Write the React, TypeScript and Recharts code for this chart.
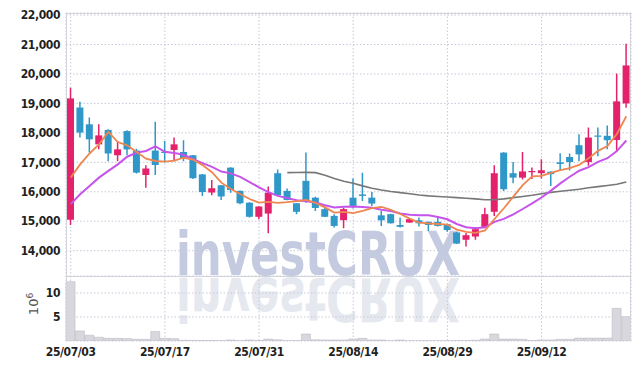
import { ComposedChart, Bar, Line, XAxis, YAxis, CartesianGrid } from 'recharts'

// trading days, 25/07/03 .. 25/09/25
const dates = [
  '25/07/03', '25/07/04', '25/07/07', '25/07/08', '25/07/09', '25/07/10', '25/07/11', '25/07/14', '25/07/15', '25/07/16',
  '25/07/17', '25/07/18', '25/07/21', '25/07/22', '25/07/23', '25/07/24', '25/07/25', '25/07/28', '25/07/29', '25/07/30',
  '25/07/31', '25/08/01', '25/08/04', '25/08/05', '25/08/06', '25/08/07', '25/08/08', '25/08/11', '25/08/12', '25/08/13',
  '25/08/14', '25/08/18', '25/08/19', '25/08/20', '25/08/21', '25/08/22', '25/08/25', '25/08/26', '25/08/27', '25/08/28',
  '25/08/29', '25/09/01', '25/09/02', '25/09/03', '25/09/04', '25/09/05', '25/09/08', '25/09/09', '25/09/10', '25/09/11',
  '25/09/12', '25/09/15', '25/09/16', '25/09/17', '25/09/18', '25/09/19', '25/09/22', '25/09/23', '25/09/24', '25/09/25'
]

const opens = [
  15050, 18860, 18290, 17610, 18100, 17240, 18060, 17400, 16570, 17400,
  17360, 17420, 17350, 17240, 16590, 15975, 16220, 16820, 16030, 15630,
  15150, 15260, 16630, 16030, 15610, 16370, 15800, 15410, 15180, 15035,
  15800, 15910, 15800, 15200, 15240, 14870, 14955, 15030, 14980, 14980,
  14900, 14620, 14370, 14480, 14790, 15320, 17330, 16630, 16480, 16675,
  16630, 16680, 17000, 17180, 17580, 17010, 17910, 17900, 17760, 19000
]
const highs = [
  19530, 19060, 18520, 18290, 18120, 17720, 18090, 17460, 16900, 18380,
  17720, 17840, 17750, 17250, 16600, 16400, 16230, 16830, 16040, 15640,
  15510, 16180, 16760, 16110, 15620, 17330, 15830, 15450, 15240, 15460,
  16450, 16650, 15990, 15350, 15250, 15130, 15080, 15130, 14990, 15150,
  14910, 14630, 14600, 14800, 15460, 16900, 17340, 17010, 17350, 16820,
  17100, 16700, 17305, 17300, 17950, 18180, 18180, 18250, 20020, 21030
]
const lows = [
  14870, 17840, 17330, 17440, 17040, 17040, 17240, 16620, 16140, 16570,
  16990, 17040, 17040, 16430, 15860, 15880, 15720, 15970, 15580, 15130,
  15070, 14590, 15870, 15710, 15240, 15630, 15350, 15140, 14790, 14760,
  15430, 15690, 15520, 14840, 14920, 14790, 14950, 14820, 14670, 14820,
  14640, 14230, 14140, 14370, 14760, 15180, 16030, 16290, 16420, 16430,
  16450, 16200, 16710, 16720, 17040, 16880, 17210, 17440, 17380, 18850
]
const closes = [
  19170, 18010, 17780, 17915, 17300, 17440, 17440, 16650, 16790, 16910,
  17330, 17610, 17140, 16460, 15990, 16120, 15840, 16060, 15610, 15150,
  15500, 15970, 15880, 15720, 15320, 15720, 15450, 15150, 14840, 15410,
  15520, 15860, 15600, 15030, 14930, 14810, 15070, 14930, 14875, 14840,
  14700, 14240, 14525, 14730, 15240, 16630, 16085, 16480, 16690, 16705,
  16730, 16600, 16945, 17010, 17270, 17840, 17880, 17750, 19070, 20290
]

// moving averages
const ma5 = [
  16480, 16930, 17300, 17610, 18035, 17690, 17575, 17350, 17125, 17045,
  17025, 17060, 17155, 17090, 16905, 16665, 16310, 16095, 15925, 15755,
  15630, 15660, 15620, 15645, 15680, 15720, 15620, 15470, 15295, 15315,
  15275, 15355, 15445, 15485, 15390, 15245, 15090, 14955, 14925, 14905,
  14885, 14715, 14635, 14605, 14685, 15075, 15440, 15835, 16225, 16520,
  16540, 16640, 16735, 16800, 16910, 17135, 17390, 17550, 17960, 18565
]
const ma10 = [
  15580, 15915, 16200, 16480, 16710, 16930, 17190, 17330, 17385, 17540,
  17355, 17315, 17255, 17105, 16975, 16845, 16685, 16625, 16505, 16330,
  16150, 15985, 15860, 15785, 15715, 15675, 15640, 15545, 15470, 15495,
  15500, 15485, 15460, 15390, 15350, 15260, 15220, 15200, 15205, 15145,
  15065, 14905, 14795, 14765, 14795, 14980, 15080, 15235, 15415, 15605,
  15805, 16040, 16285, 16510, 16715, 16835, 17015, 17140, 17380, 17740
]
const maLong = [
  null, null, null, null, null, null, null, null, null, null,
  null, null, null, null, null, null, null, null, null, null,
  null, null, null, 16650, 16655, 16660, 16650, 16560, 16450, 16360,
  16290, 16200, 16120, 16060, 16010, 15970, 15930, 15890, 15860, 15840,
  15820, 15800, 15780, 15760, 15730, 15730, 15760, 15800, 15840, 15880,
  15930, 15980, 16020, 16050, 16085, 16135, 16175, 16215, 16255, 16330
]

// volume, millions of shares
const volumes = [
  12.35, 2.1, 1.2, 0.78, 0.55, 0.55, 0.5, 0.35, 0.35, 2.0,
  0.55, 0.5, 0.15, 0.12, 0.1, 0.1, 0.05, 0.2, 0.05, 0.2,
  0.1, 0.4, 0.25, 0.05, 0.05, 1.45, 0.25, 0.2, 0.2, 0.2,
  0.4, 0.55, 0.2, 0.2, 0.03, 0.2, 0.03, 0.03, 0.03, 0.03,
  0.03, 0.05, 0.05, 0.15, 0.4, 1.45, 0.4, 0.4, 0.35, 0.1,
  0.2, 0.2, 0.35, 0.35, 0.6, 0.6, 0.6, 0.6, 6.8, 5.05
]

const priceTicks = [14000, 15000, 16000, 17000, 18000, 19000, 20000, 21000, 22000]
const volumeTicks = [5, 10]
const dateTicks = ['25/07/03', '25/07/17', '25/07/31', '25/08/14', '25/08/29', '25/09/12']

const data = dates.map((date, i) => ({
  date,
  open: opens[i],
  high: highs[i],
  low: lows[i],
  close: closes[i],
  range: [lows[i], highs[i]],
  ma5: ma5[i],
  ma10: ma10[i],
  maLong: maLong[i],
  volume: volumes[i]
}))

const UP = '#e3226b'
const DOWN = '#3097c9'
const GRID = '#c6c9d8'
const BORDER = '#d3d3dc'
const tickStyle = {
  fill: '#1f1f1f',
  fontSize: 12,
  fontWeight: 700,
  fontFamily: "'DejaVu Sans Condensed', 'Liberation Sans Narrow', 'DejaVu Sans', sans-serif",
  letterSpacing: -0.4
}

const Candle = (props: any) => {
  const { x, y, width, height, payload } = props
  const { open, close, high, low } = payload
  const color = close >= open ? UP : DOWN
  const top = Math.min(y, y + height)
  const h = Math.abs(height)
  const ratio = high === low ? 0 : h / (high - low)
  const yOf = (v: number) => top + (high - v) * ratio
  const bodyTop = yOf(Math.max(open, close))
  const bodyH = Math.max(1.2, Math.abs(yOf(open) - yOf(close)))
  const cx = x + width / 2
  return (
    <g>
      <line x1={cx} x2={cx} y1={top} y2={top + h} stroke={color} strokeWidth={1.5} />
      <rect x={x} y={bodyTop} width={width} height={bodyH} fill={color} />
    </g>
  )
}

export default function App() {
  return (
    <div style={{ position: 'absolute', left: 0, top: 0, width: 639, height: 370, background: '#fff', overflow: 'hidden' }}>
      {/* watermark with its reflection */}
      <svg width={639} height={370} style={{ position: 'absolute', left: 0, top: 0 }}>
        <g fontFamily="'DejaVu Sans', sans-serif" fontWeight={700} fontSize={60}>
          <text x={176} y={275} fill="#c4cadf" textLength={284} lengthAdjust="spacingAndGlyphs">investCRUX</text>
          <g transform="translate(0,553) scale(1,-1)">
            <text x={176} y={275} fill="#e6e8f0" textLength={284} lengthAdjust="spacingAndGlyphs">investCRUX</text>
          </g>
        </g>
      </svg>

      <div style={{ position: 'absolute', left: 0, top: 0 }}>
        <ComposedChart width={639} height={276} data={data} margin={{ top: 13, right: 8, bottom: 0, left: 0 }}>
          <CartesianGrid stroke={GRID} strokeDasharray="1.5 2" />
          <XAxis dataKey="date" hide ticks={dateTicks} interval={0} />
          <YAxis
            domain={[13140, 22070]}
            allowDataOverflow
            ticks={priceTicks}
            width={66}
            axisLine={false}
            tickLine={false}
            tickSize={0}
            tickMargin={6}
            tick={tickStyle}
            tickFormatter={(v: number) => v.toLocaleString('en-US')}
          />
          <Bar dataKey="range" shape={Candle} barSize={7} isAnimationActive={false} />
          <Line dataKey="maLong" stroke="#777777" strokeWidth={1.6} dot={false} isAnimationActive={false} />
          <Line dataKey="ma10" stroke="#c653ea" strokeWidth={2} dot={false} isAnimationActive={false} />
          <Line dataKey="ma5" stroke="#ee8650" strokeWidth={1.8} dot={false} isAnimationActive={false} />
        </ComposedChart>
      </div>

      <div style={{ position: 'absolute', left: 0, top: 276 }}>
        <ComposedChart width={639} height={94} data={data} margin={{ top: 0, right: 8, bottom: 0, left: 0 }} barCategoryGap={0}>
          <CartesianGrid stroke={GRID} strokeDasharray="1.5 2" />
          <XAxis
            dataKey="date"
            ticks={dateTicks}
            interval={0}
            height={29}
            axisLine={false}
            tickLine={false}
            tickSize={0}
            tickMargin={6}
            tick={tickStyle}
          />
          <YAxis
            domain={[0, 13.54]}
            allowDataOverflow
            ticks={volumeTicks}
            width={66}
            axisLine={false}
            tickLine={false}
            tickSize={0}
            tickMargin={6}
            tick={tickStyle}
          />
          <Bar dataKey="volume" fill="#d7d7dd" stroke="#bdbdc7" strokeWidth={0.6} isAnimationActive={false} />
        </ComposedChart>
      </div>

      {/* panel borders and volume unit */}
      <div style={{ position: 'absolute', left: 66, top: 13, width: 565, height: 328, boxSizing: 'border-box', borderLeft: `1px solid ${BORDER}`, borderTop: `1px solid ${BORDER}`, borderRight: `1px solid ${BORDER}`, pointerEvents: 'none' }} />
      <div style={{ position: 'absolute', left: 66, top: 276, width: 565, height: 1, background: BORDER }} />
      <svg width={60} height={370} style={{ position: 'absolute', left: 0, top: 0 }}>
        <text transform="rotate(-90)" x={-304} y={38} textAnchor="middle" fontSize={13} fill="#555" fontFamily="'DejaVu Sans', sans-serif">
          10<tspan dy={-5} fontSize={9}>6</tspan>
        </text>
      </svg>
    </div>
  )
}
